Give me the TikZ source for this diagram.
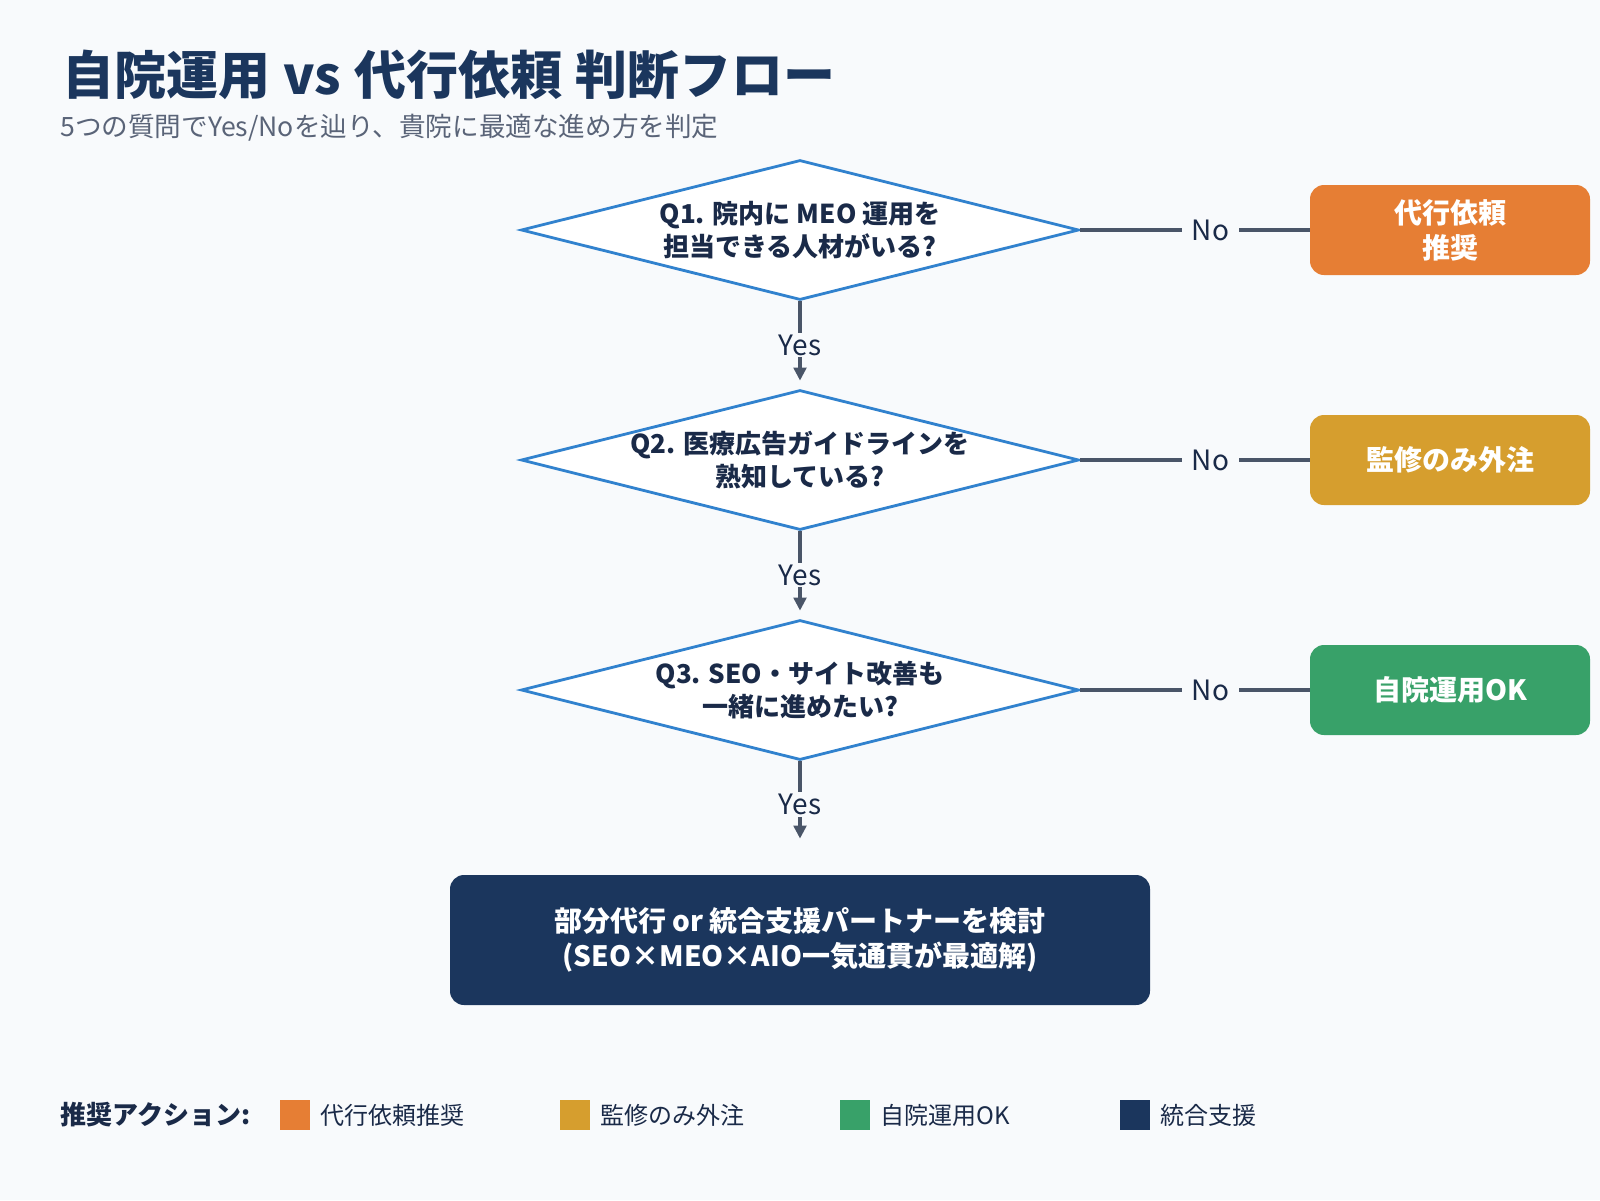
\documentclass[tikz,border=0pt]{standalone}
\usepackage{fontspec}
\setmainfont{Noto Sans CJK JP}
\usetikzlibrary{shapes.geometric,arrows.meta}
\definecolor{bg}{HTML}{F8FAFC}
\definecolor{navy}{HTML}{1B365D}
\definecolor{ink}{HTML}{1A2A48}
\definecolor{subgray}{HTML}{5A6478}
\definecolor{qblue}{HTML}{3182CE}
\definecolor{lgray}{HTML}{4A5568}
\definecolor{corange}{HTML}{E67E34}
\definecolor{cgold}{HTML}{D69E2E}
\definecolor{cgreen}{HTML}{38A169}
\begin{document}
\begin{tikzpicture}[x=0.5pt,y=-0.5pt,
  qdia/.style={shape=diamond, draw=qblue, line width=1.4pt, fill=white, minimum width=279pt, minimum height=70pt, inner sep=0pt},
  qtext/.style={font=\bfseries\fontsize{13pt}{16.5pt}\selectfont, text=ink, align=center, inner sep=0pt},
  rbox/.style={rounded corners=7pt, minimum width=140pt, minimum height=45pt, text=white, font=\bfseries\fontsize{14pt}{17.5pt}\selectfont, align=center, inner sep=0pt},
  conn/.style={draw=lgray, line width=1.7pt, -{Triangle[length=6.5pt,width=6.3pt]}},
  nline/.style={draw=lgray, line width=1.7pt},
  lbl/.style={fill=bg, text=ink, font=\fontsize{14pt}{16pt}\selectfont, inner xsep=5pt, inner ysep=1pt},
  swatch/.style={minimum size=15pt, inner sep=0pt},
  ltext/.style={anchor=west, text=ink, font=\fontsize{12pt}{14pt}\selectfont, inner sep=0pt}
]
\useasboundingbox (0,0) rectangle (1600,1200);
\fill[bg] (0,0) rectangle (1600,1200);

% title
\node[anchor=west, inner sep=0pt, text=navy, font=\bfseries\fontsize{26pt}{30pt}\selectfont] (title) at (62,75) {自院運用\hspace{0.25em}vs\hspace{0.25em}代行依頼\hspace{0.25em}判断フロー};
\node[anchor=west, inner sep=0pt, text=subgray, font=\fontsize{13.3pt}{15pt}\selectfont] (subtitle) at (60,128) {5つの質問でYes/Noを辿り、貴院に最適な進め方を判定};

% diamonds
\node[qdia] (q1) at (800,230) {};
\node[qtext] (q1t) at (800,230) {Q1. 院内に MEO 運用を\\担当できる人材がいる?};
\node[qdia] (q2) at (800,460) {};
\node[qtext] (q2t) at (800,460) {Q2. 医療広告ガイドラインを\\熟知している?};
\node[qdia] (q3) at (800,690) {};
\node[qtext] (q3t) at (800,690) {Q3. SEO・サイト改善も\\一緒に進めたい?};

% result boxes
\node[rbox, fill=corange] (r1) at (1450,230) {代行依頼\\推奨};
\node[rbox, fill=cgold] (r2) at (1450,460) {監修のみ外注};
\node[rbox, fill=cgreen] (r3) at (1450,690) {自院運用OK};
\node[rbox, fill=navy, minimum width=350pt, minimum height=65pt] (fin) at (800,940) {部分代行 or 統合支援パートナーを検討\\(SEO×MEO×AIO一気通貫が最適解)};

% connectors
\draw[conn, shorten >=4pt] (q1.south) -- node[lbl]{Yes} (q2.north);
\draw[conn, shorten >=4pt] (q2.south) -- node[lbl]{Yes} (q3.north);
\draw[conn, shorten >=18pt] (q3.south) -- node[lbl, pos=0.38]{Yes} (fin.north);
\draw[nline] (q1.east) -- node[lbl, pos=0.567]{No} (r1.west);
\draw[nline] (q2.east) -- node[lbl, pos=0.567]{No} (r2.west);
\draw[nline] (q3.east) -- node[lbl, pos=0.567]{No} (r3.west);

% legend
\node[anchor=west, inner sep=0pt, text=ink, font=\bfseries\fontsize{13pt}{15pt}\selectfont] (legtitle) at (60,1115) {推奨アクション:};
\node[swatch, fill=corange] (s1) at (295,1115) {};
\node[ltext] (l1) at (320,1115) {代行依頼推奨};
\node[swatch, fill=cgold] (s2) at (575,1115) {};
\node[ltext] (l2) at (600,1115) {監修のみ外注};
\node[swatch, fill=cgreen] (s3) at (855,1115) {};
\node[ltext] (l3) at (880,1115) {自院運用OK};
\node[swatch, fill=navy] (s4) at (1135,1115) {};
\node[ltext] (l4) at (1160,1115) {統合支援};
\end{tikzpicture}
\end{document}
